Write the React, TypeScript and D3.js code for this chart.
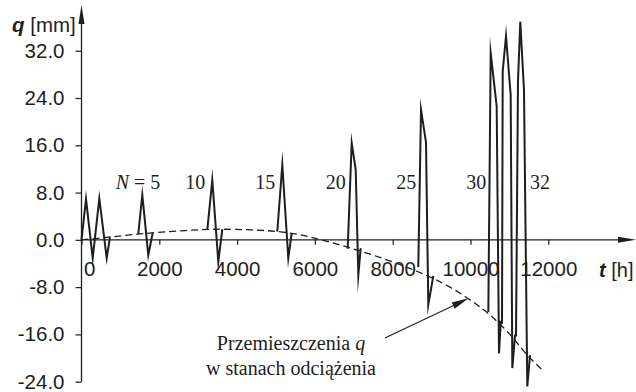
import * as d3 from "d3";
import { useEffect, useRef } from "react";

const yTickValues = [-24, -16, -8, 0, 8, 16, 24, 32];
const yTickLabels = ["-24.0", "-16.0", "-8.0", "0.0", "8.0", "16.0", "24.0", "32.0"];
const xTickValues = [0, 2000, 4000, 6000, 8000, 10000, 12000];
const xTickLabels = ["0", "2000", "4000", "6000", "8000", "10000", "12000"];

// displacements in unloaded states (dashed curve)
const unloadT = [0, 700, 1500, 2500, 3500, 4500, 5500, 6500, 7500, 8500, 9000, 9500, 10000, 10500, 11000, 11500, 11830];
const unloadQ = [0, 0.45, 1.0, 1.5, 1.8, 1.65, 1.0, -0.6, -2.6, -5.0, -6.4, -8.1, -10.2, -12.7, -15.9, -19.8, -21.9];

// load cycles (solid zigzag), one group per burst
const cycleT = [
  [0, 116, 288, 458, 648, 733],
  [1460, 1563, 1717, 1830],
  [3234, 3362, 3517, 3620],
  [5033, 5162, 5316, 5404],
  [6843, 6946, 7049, 7116, 7177],
  [8658, 8728, 8856, 8915, 9044],
  [10458, 10519, 10673, 10733, 10776, 10810, 10828, 10913, 11033, 11075, 11144, 11170, 11221, 11280, 11375, 11460, 11530],
];
const cycleQ = [
  [0, 6.9, -3.1, 7.0, -3.1, 0.45],
  [1.0, 7.6, -2.6, 1.15],
  [1.7, 10.1, -3.7, 1.8],
  [1.4, 12.7, -3.1, 1.15],
  [-1.5, 16.4, 11.9, -6.0, -1.4],
  [-4.6, 22.0, 16.5, -11.0, -6.1],
  [-12.2, 31.6, 22.6, -19.2, -13.9, -14.0, 28.5, 34.5, 24.5, -21.7, -16.2, -16.2, 26.9, 36.9, 25.4, -24.8, -19.5],
];

const cycleLabels = ["5", "10", "15", "20", "25", "30", "32"];
const cycleLabelT = [1460, 3234, 5033, 6843, 8658, 10458, 11375];

// annotation arrow: from text to the dashed curve
const arrowT = [7800, 9950];
const arrowQ = [-16.6, -9.9];

const SANS = "'Liberation Sans', Arial, Helvetica, sans-serif";
const SERIF = "'Liberation Serif', 'Times New Roman', serif";
const INK = "#1e1e1e";

export default function App() {
  const svgRef = useRef(null);

  useEffect(() => {
    const w = 636;
    const h = 392;
    const svg = d3.select(svgRef.current).attr("width", w).attr("height", h);
    svg.selectAll("*").remove();

    const x = d3.scaleLinear().domain([0, 12000]).range([81.5, 548.3]);
    const y = d3.scaleLinear().domain([-24, 32]).range([381.7, 50.7]);

    // y axis
    const yAxis = d3
      .axisLeft(y)
      .tickValues(yTickValues)
      .tickFormat((d, i) => yTickLabels[i])
      .tickSize(6)
      .tickPadding(11);
    const gy = svg.append("g").attr("transform", `translate(${x(0)},0)`).call(yAxis);
    gy.select(".domain").remove();
    gy.selectAll("line").attr("stroke", INK).attr("stroke-width", 1.2);
    gy.selectAll("text")
      .attr("font-family", SANS)
      .attr("font-size", 20.5)
      .attr("fill", INK);
    svg
      .append("line")
      .attr("x1", x(0))
      .attr("x2", x(0))
      .attr("y1", y(-24))
      .attr("y2", 18)
      .attr("stroke", INK)
      .attr("stroke-width", 1.3);
    svg
      .append("path")
      .attr("d", `M${x(0)},5 L${x(0) - 3},24 L${x(0) + 3},24 Z`)
      .attr("fill", INK);

    // x axis
    const xAxis = d3
      .axisBottom(x)
      .tickValues(xTickValues)
      .tickFormat((d, i) => xTickLabels[i])
      .tickSize(5)
      .tickPadding(17);
    const gx = svg.append("g").attr("transform", `translate(0,${y(0)})`).call(xAxis);
    gx.select(".domain").remove();
    gx.selectAll("line").attr("stroke", INK).attr("stroke-width", 1.2);
    gx.selectAll("text")
      .attr("font-family", SANS)
      .attr("font-size", 20.5)
      .attr("fill", INK);
    gx.select(".tick text").attr("text-anchor", "start").attr("x", 2);
    svg
      .append("line")
      .attr("x1", x(0))
      .attr("x2", 624)
      .attr("y1", y(0))
      .attr("y2", y(0))
      .attr("stroke", INK)
      .attr("stroke-width", 1.3);
    svg
      .append("path")
      .attr("d", `M636,${y(0)} L618,${y(0) - 3} L618,${y(0) + 3} Z`)
      .attr("fill", INK);

    // axis titles
    const qt = svg
      .append("text")
      .attr("x", 12)
      .attr("y", 32)
      .attr("font-family", SANS)
      .attr("font-size", 20.5)
      .attr("fill", INK);
    qt.append("tspan").attr("font-weight", "bold").attr("font-style", "italic").text("q");
    qt.append("tspan").text(" [mm]");

    const tt = svg
      .append("text")
      .attr("x", 599)
      .attr("y", 277)
      .attr("font-family", SANS)
      .attr("font-size", 20)
      .attr("fill", INK);
    tt.append("tspan").attr("font-weight", "bold").attr("font-style", "italic").text("t");
    tt.append("tspan").text(" [h]");

    // dashed curve
    const dashLine = d3
      .line<number>()
      .x((d, i) => x(unloadT[i]))
      .y((d) => y(d))
      .curve(d3.curveMonotoneX);
    svg
      .append("path")
      .attr("d", dashLine(unloadQ))
      .attr("fill", "none")
      .attr("stroke", INK)
      .attr("stroke-width", 1.3)
      .attr("stroke-dasharray", "7,4");

    // zigzag cycles
    cycleQ.forEach((qs, k) => {
      const line = d3
        .line<number>()
        .x((d, i) => x(cycleT[k][i]))
        .y((d) => y(d));
      svg
        .append("path")
        .attr("d", line(qs))
        .attr("fill", "none")
        .attr("stroke", INK)
        .attr("stroke-width", 2)
        .attr("stroke-linejoin", "miter")
        .attr("stroke-miterlimit", 20);
    });

    // cycle labels
    cycleLabels.forEach((lab, i) => {
      const t = svg
        .append("text")
        .attr("y", 189)
        .attr("font-family", SERIF)
        .attr("font-size", 20)
        .attr("fill", INK);
      if (i === 0) {
        t.attr("x", x(cycleLabelT[i]) + 22).attr("text-anchor", "end");
        t.append("tspan").attr("font-style", "italic").text("N");
        t.append("tspan").text(" = " + lab);
      } else if (i === cycleLabels.length - 1) {
        t.attr("x", x(cycleLabelT[i]) + 6).attr("text-anchor", "start").text(lab);
      } else {
        t.attr("x", x(cycleLabelT[i]) - 2).attr("text-anchor", "end").text(lab);
      }
    });

    // annotation
    const ax1 = x(arrowT[0]);
    const ay1 = y(arrowQ[0]);
    const ax2 = x(arrowT[1]);
    const ay2 = y(arrowQ[1]);
    const ang = Math.atan2(ay2 - ay1, ax2 - ax1);
    const hl = 17;
    const hw = 3.5;
    const bx = ax2 - hl * Math.cos(ang);
    const by = ay2 - hl * Math.sin(ang);
    svg
      .append("line")
      .attr("x1", ax1)
      .attr("y1", ay1)
      .attr("x2", bx)
      .attr("y2", by)
      .attr("stroke", INK)
      .attr("stroke-width", 1.1);
    svg
      .append("path")
      .attr(
        "d",
        `M${ax2},${ay2} L${bx + hw * Math.sin(ang)},${by - hw * Math.cos(ang)} L${bx - hw * Math.sin(ang)},${by + hw * Math.cos(ang)} Z`
      )
      .attr("fill", INK);

    const a1 = svg
      .append("text")
      .attr("x", 291)
      .attr("y", 350)
      .attr("text-anchor", "middle")
      .attr("font-family", SERIF)
      .attr("font-size", 20)
      .attr("fill", INK);
    a1.append("tspan").text("Przemieszczenia ");
    a1.append("tspan").attr("font-style", "italic").text("q");
    svg
      .append("text")
      .attr("x", 291)
      .attr("y", 375)
      .attr("text-anchor", "middle")
      .attr("font-family", SERIF)
      .attr("font-size", 20)
      .attr("fill", INK)
      .text("w stanach odciążenia");
  }, []);

  return (
    <svg
      ref={svgRef}
      style={{ position: "absolute", left: 0, top: 0, background: "#fff" }}
    ></svg>
  );
}
